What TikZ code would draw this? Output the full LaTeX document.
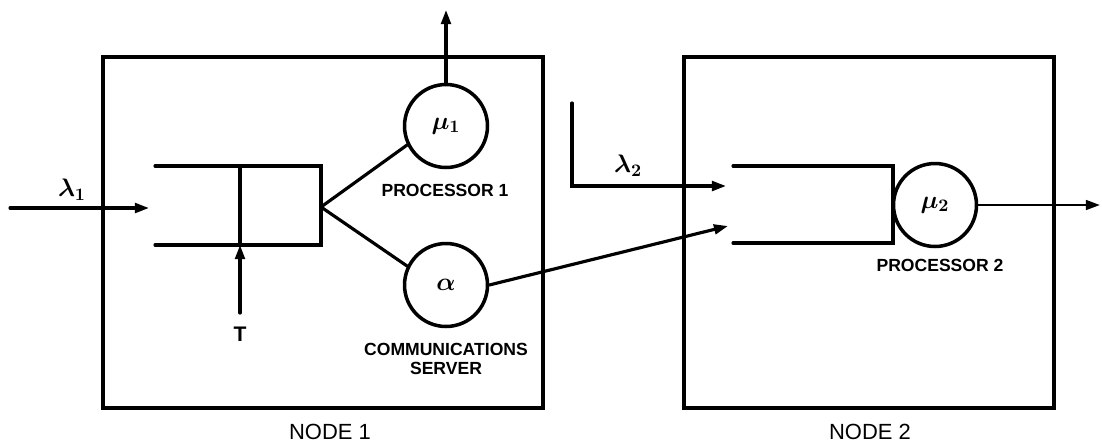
\documentclass[tikz,border=0pt]{standalone}
\usepackage{amsmath}
\usepackage{bm}
\usepackage{fontspec}
\setmainfont{Liberation Sans}
\usetikzlibrary{arrows.meta}

\begin{document}
\begin{tikzpicture}[x=0.02cm,y=-0.02cm,
		line width=1.8pt,line cap=round,
		flow/.style={-{Triangle[length=8pt,width=5.5pt]}},
		nodebox/.style={draw,rectangle,line width=1.8pt,minimum height=7.02cm,inner sep=0pt},
		server/.style={draw,circle,line width=2pt,minimum size=1.66cm,inner sep=0pt,font=\Large},
		greek/.style={font=\Large,inner sep=0pt},
		tag/.style={font=\bfseries\fontsize{10}{11}\selectfont,align=center,inner sep=0pt},
		nodename/.style={font=\fontsize{12.5}{14}\selectfont,inner sep=0pt}]
		\useasboundingbox (0,0) rectangle (1102,444);
		
		% node 1
		\node [nodebox,minimum width=8.8cm] (box1) at (323,232.5) {};
		\node [nodename] (name1) at (330,432) {NODE 1};
		\draw (155,166) coordinate (q1tl) -- (321,166) -- (321,245) -- (155,245) coordinate (q1bl);
		\draw (240,166) coordinate (q1div) -- (240,245) coordinate (q1foot);
		\coordinate (fork) at (321,207);
		\node [server] (mu1) at (446,126) {$\bm{\mu_1}$};
		\node [server] (alpha) at (446,285) {$\bm{\alpha}$};
		\node [tag] (proc1) at (445,190) {PROCESSOR 1};
		\node [tag] (comm) at (446,359) {COMMUNICATIONS\\SERVER};
		\draw (fork) -- (mu1.206);
		\draw (fork) -- (alpha.154);
		\coordinate (out1) at (446,10);
		\draw [flow] (mu1.north) -- (out1);
		\coordinate (tin) at (240,313);
		\draw [flow] (tin) -- (q1foot);
		\node [tag,font=\bfseries\fontsize{12}{13}\selectfont] (tlabel) at (240,334) {T};
		\coordinate (lam1in) at (10,208);
		\coordinate (q1in) at (149,208);
		\draw [flow] (lam1in) -- (q1in);
		\node [greek] (lam1) at (72,190) {$\bm{\lambda_1}$};
		
		% node 2
		\node [nodebox,minimum width=7.4cm] (box2) at (869,232.5) {};
		\node [nodename] (name2) at (870,432) {NODE 2};
		\draw (733,166) -- (893,166) -- (893,243) -- (733,243);
		\node [server] (mu2) at (935,205) {$\bm{\mu_2}$};
		\node [tag] (proc2) at (940,265) {PROCESSOR 2};
		\coordinate (q2low) at (728,226);
		\draw [flow] (alpha.east) -- (q2low);
		\coordinate (lam2top) at (572,103);
		\coordinate (q2up) at (726,186);
		\draw [flow] (lam2top) |- (q2up);
		\node [greek] (lam2) at (628,166) {$\bm{\lambda_2}$};
		\coordinate (out2) at (1100,205);
		\draw [flow,line width=1.4pt] (mu2.east) -- (out2);
	\end{tikzpicture}
\end{document}
